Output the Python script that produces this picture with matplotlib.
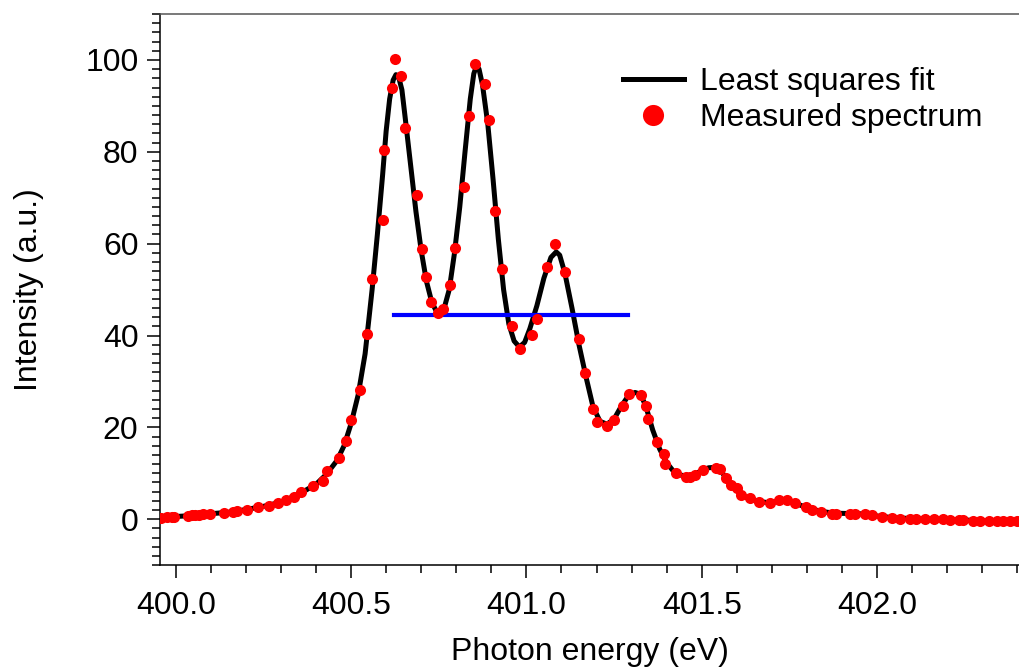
"""Photon energy spectrum with least squares fit"""

import matplotlib
matplotlib.use('Agg')
import matplotlib.pyplot as plt
from matplotlib.ticker import MultipleLocator

plt.rcParams['font.family'] = ['Liberation Sans', 'DejaVu Sans']

# measured spectrum (eV, a.u.)
meas_x = [399.957, 399.974, 399.990, 399.995, 400.036, 400.046, 400.055, 400.066, 400.077, 400.098,
          400.138, 400.164, 400.174, 400.202, 400.234, 400.265, 400.291, 400.313, 400.337, 400.356,
          400.392, 400.420, 400.432, 400.466, 400.486, 400.501, 400.526, 400.546, 400.561, 400.591,
          400.593, 400.618, 400.626, 400.642, 400.655, 400.687, 400.702, 400.714, 400.728, 400.747,
          400.763, 400.782, 400.796, 400.821, 400.836, 400.853, 400.881, 400.894, 400.911, 400.930,
          400.958, 400.982, 401.015, 401.031, 401.060, 401.082, 401.109, 401.149, 401.168, 401.189,
          401.202, 401.231, 401.251, 401.276, 401.293, 401.326, 401.340, 401.348, 401.373, 401.392,
          401.395, 401.427, 401.455, 401.466, 401.481, 401.503, 401.540, 401.552, 401.568, 401.585,
          401.602, 401.611, 401.638, 401.664, 401.695, 401.721, 401.742, 401.766, 401.797, 401.814,
          401.839, 401.873, 401.883, 401.923, 401.937, 401.966, 401.987, 402.013, 402.042, 402.065,
          402.094, 402.111, 402.137, 402.163, 402.189, 402.208, 402.234, 402.246, 402.274, 402.293,
          402.320, 402.341, 402.360, 402.380, 402.398]
meas_y = [0.37, 0.44, 0.50, 0.54, 0.72, 0.81, 0.87, 0.98, 1.09, 1.24,
          1.37, 1.59, 1.68, 2.11, 2.55, 2.98, 3.42, 4.14, 4.86, 5.88,
          7.25, 8.28, 10.46, 13.29, 17.06, 21.50, 28.04, 40.24, 52.29, 65.21,
          80.33, 93.97, 100.15, 96.58, 85.25, 70.59, 58.89, 52.79, 47.21, 44.81,
          45.69, 50.91, 59.04, 72.33, 87.87, 99.06, 94.71, 86.93, 67.10, 54.47,
          42.16, 37.04, 40.09, 43.57, 54.90, 59.98, 53.88, 39.15, 31.85, 23.94,
          21.22, 20.39, 21.53, 24.71, 27.23, 27.06, 24.62, 21.83, 16.71, 14.27,
          12.07, 10.02, 9.15, 9.09, 9.59, 10.68, 11.22, 10.83, 8.93, 7.41,
          6.69, 5.23, 4.51, 3.77, 3.55, 4.14, 4.14, 3.55, 2.68, 2.11,
          1.59, 1.24, 1.24, 1.24, 1.24, 1.24, 0.87, 0.50, 0.28, 0.15,
          0.15, 0.15, 0.15, 0.15, 0.00, -0.07, -0.22, -0.22, -0.37, -0.37,
          -0.50, -0.50, -0.50, -0.50, -0.50]

# least squares fit curve
fit_x = [399.955, 400.05, 400.10, 400.15, 400.20, 400.25, 400.30, 400.35, 400.40, 400.43,
         400.46, 400.48, 400.50, 400.52, 400.54, 400.56, 400.575, 400.59, 400.60, 400.61,
         400.62, 400.628, 400.635, 400.645, 400.655, 400.67, 400.685, 400.70, 400.715, 400.73,
         400.745, 400.755, 400.765, 400.78, 400.795, 400.81, 400.825, 400.84, 400.85, 400.858,
         400.865, 400.875, 400.89, 400.905, 400.92, 400.935, 400.95, 400.965, 400.98, 400.995,
         401.01, 401.03, 401.05, 401.07, 401.085, 401.095, 401.11, 401.13, 401.15, 401.17,
         401.19, 401.21, 401.23, 401.25, 401.27, 401.29, 401.31, 401.325, 401.34, 401.36,
         401.38, 401.40, 401.42, 401.44, 401.46, 401.48, 401.50, 401.52, 401.54, 401.555,
         401.57, 401.59, 401.61, 401.63, 401.66, 401.69, 401.72, 401.74, 401.77, 401.80,
         401.84, 401.88, 401.95, 402.00, 402.05, 402.10, 402.20, 402.30, 402.405]
fit_y = [0.4, 0.8, 1.2, 1.5, 2.1, 2.8, 3.7, 5.4, 7.6, 9.8,
         12.8, 16.0, 20.8, 27.0, 36.0, 50.0, 62.0, 75.0, 84.5, 91.5,
         95.6, 96.8, 96.5, 93.5, 87.0, 77.0, 67.0, 58.5, 51.8, 47.3,
         45.0, 44.8, 45.8, 50.0, 58.0, 68.0, 80.0, 91.5, 97.0, 98.8,
         98.0, 94.5, 86.0, 74.0, 61.0, 50.0, 42.5, 38.8, 37.5, 38.5,
         41.5, 46.5, 52.5, 57.0, 58.2, 57.5, 53.5, 46.0, 38.0, 31.0,
         24.5, 21.3, 20.7, 21.8, 24.5, 26.8, 27.6, 27.2, 24.8, 19.5,
         15.3, 12.3, 10.4, 9.6, 9.4, 9.8, 10.6, 11.2, 11.3, 10.5,
         8.9, 7.0, 5.5, 4.6, 3.9, 3.6, 3.9, 4.0, 3.4, 2.5,
         1.7, 1.3, 1.2, 0.7, 0.3, 0.15, 0.0, -0.35, -0.5]

# horizontal marker line
hline_x = [400.622, 401.289]
hline_y = 44.4

fig = plt.figure(figsize=(10.19, 6.68), dpi=100)
ax = fig.add_axes([0.157, 0.154, 0.843, 0.825])

ax.plot(fit_x, fit_y, color='black', lw=3.6, label='Least squares fit', zorder=2)
ax.plot(hline_x, [hline_y, hline_y], color='blue', lw=3.0, zorder=3)
ax.plot(meas_x, meas_y, 'o', color='red', ms=8, mec='none', label='Measured spectrum', zorder=4)

ax.set_xlim(399.955, 402.405)
ax.set_ylim(-10, 110)
ax.xaxis.set_major_locator(MultipleLocator(0.5))
ax.xaxis.set_minor_locator(MultipleLocator(0.1))
ax.yaxis.set_major_locator(MultipleLocator(20))
ax.yaxis.set_minor_locator(MultipleLocator(2))
ax.xaxis.set_major_formatter(matplotlib.ticker.FormatStrFormatter('%.1f'))

ax.tick_params(which='major', length=9.5, width=1.1, labelsize=23, direction='out')
ax.tick_params(which='minor', length=5.5, width=1.1, direction='out')
ax.tick_params(axis='x', pad=9)
ax.tick_params(axis='y', pad=6)

ax.spines['right'].set_visible(False)
ax.spines['top'].set_color('#555555')
for s in ['left', 'bottom', 'top']:
    ax.spines[s].set_linewidth(1.1)

ax.set_xlabel('Photon energy (eV)', fontsize=23, labelpad=12)
ax.set_ylabel('Intensity (a.u.)', fontsize=23, labelpad=30)

ax.legend(loc='upper left', bbox_to_anchor=(0.539, 0.904), frameon=False, fontsize=23,
          borderpad=0, borderaxespad=0, handlelength=1.9, handletextpad=0.5,
          labelspacing=0.2, markerscale=1.9)

fig.savefig('out.png', dpi=100)
